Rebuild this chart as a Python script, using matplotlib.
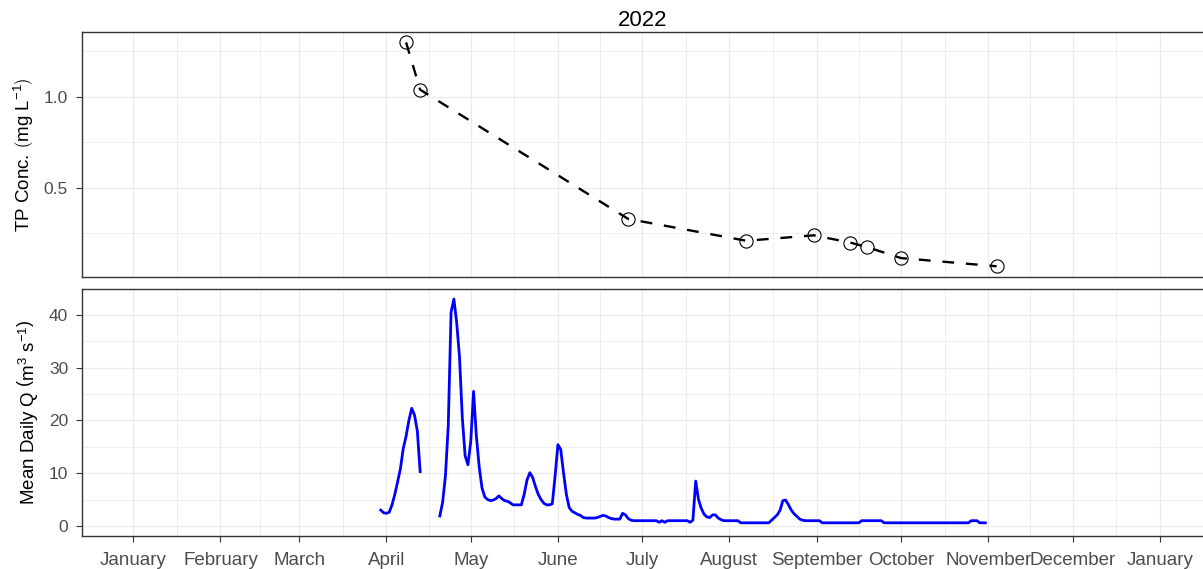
import matplotlib
matplotlib.use("Agg")
import matplotlib.pyplot as plt
import numpy as np
import pandas as pd

plt.rcParams['font.family'] = ['Liberation Sans', 'DejaVu Sans']
plt.rcParams['mathtext.fontset'] = 'custom'
plt.rcParams['mathtext.rm'] = 'Liberation Sans'
plt.rcParams['mathtext.it'] = 'Liberation Sans:italic'

# TP concentration samples
tp_dates = ['2022-04-08', '2022-04-13', '2022-06-26', '2022-08-07', '2022-08-31',
            '2022-09-13', '2022-09-19', '2022-10-01', '2022-11-04']
tp_conc = [1.30, 1.04, 0.33, 0.21, 0.24, 0.20, 0.175, 0.115, 0.07]

# mean daily discharge, two runs of daily values (gap in mid April)
q1_start = '2022-03-30'
q1_vals = [3.0, 2.5, 2.4, 2.6, 4.0, 6.0, 8.4, 10.9, 14.7, 17.0, 20.0, 22.3, 21.0, 18.0, 10.3]

q2_start = '2022-04-20'
q2_vals = ([1.9, 4.5, 9.5, 19.0, 40.5, 43.0, 38.5, 32.0, 20.5, 13.3, 11.6, 16.0, 25.5, 17.0,
            11.2, 7.2, 5.5, 5.0, 4.8, 4.9, 5.2, 5.7, 5.2, 4.8, 4.7, 4.4, 4.0, 4.0, 4.0, 4.0,
            6.0, 8.7, 10.1, 9.2, 7.5, 6.0, 5.0, 4.3, 4.0, 4.0, 4.2, 9.5, 15.4, 14.5, 10.0,
            6.0, 3.5, 2.8, 2.5, 2.2, 2.0, 1.6]
           + [1.5] * 4 + [1.6, 1.8, 2.0, 1.9, 1.6, 1.4, 1.3, 1.3, 1.3, 2.4, 2.1, 1.4, 1.1]
           + [1.0] * 9 + [0.7, 1.0, 0.7] + [1.0] * 8 + [0.7, 1.1, 8.5, 5.0, 3.3, 2.2, 1.7,
           1.6, 2.1, 2.1, 1.5, 1.2] + [1.0] * 6 + [0.6] * 11
           + [1.1, 1.6, 2.1, 3.0, 4.8, 4.9, 4.0, 3.0, 2.3, 1.8, 1.3, 1.1] + [1.0] * 6
           + [0.6] * 14 + [1.0] * 8 + [0.6] * 31 + [1.0] * 3 + [0.6] * 3)

month_labels = ['January', 'February', 'March', 'April', 'May', 'June', 'July',
                'August', 'September', 'October', 'November', 'December', 'January']

tp_x = pd.to_datetime(tp_dates)
q1_x = pd.date_range(q1_start, periods=len(q1_vals), freq='D')
q2_x = pd.date_range(q2_start, periods=len(q2_vals), freq='D')
month_ticks = pd.date_range('2022-01-01', '2023-01-01', freq='MS')
mids = month_ticks[:-1] + (month_ticks[1:] - month_ticks[:-1]) / 2
xlo = pd.Timestamp('2022-01-01') - pd.Timedelta(days=18.25)
xhi = pd.Timestamp('2023-01-01') + pd.Timedelta(days=18.25)

W, H = 1203, 569
fig = plt.figure(figsize=(W / 100, H / 100), dpi=100)
left = 82 / W
width = (1211 - 82) / W
ax1 = fig.add_axes([left, 1 - 277 / H, width, (277 - 32) / H])
ax2 = fig.add_axes([left, 1 - 536 / H, width, (536 - 289) / H])

border = '#333333'
for ax in (ax1, ax2):
    ax.set_xlim(xlo, xhi)
    ax.set_xticks(month_ticks)
    ax.set_xticks(mids, minor=True)
    ax.grid(True, which='major', color='#EBEBEB', lw=1.0)
    ax.grid(True, which='minor', color='#EBEBEB', lw=0.6)
    ax.set_axisbelow(True)
    for s in ax.spines.values():
        s.set_color(border)
        s.set_linewidth(1.0)
    ax.tick_params(which='major', length=4, width=0.8, color=border,
                   labelsize=12.5, labelcolor='#4D4D4D')
    ax.tick_params(axis='y', pad=6)
    ax.tick_params(which='minor', length=0)

# top panel
ax1.plot(tp_x, tp_conc, linestyle=(0, (5, 5)), color='black', lw=1.7, zorder=3)
ax1.plot(tp_x, tp_conc, 'o', ms=9.5, mfc='none', mec='black', mew=0.8, zorder=2)
ax1.set_ylim(0.011, 1.357)
ax1.set_yticks([0.5, 1.0])
ax1.set_yticklabels(['0.5', '1.0'])
ax1.set_yticks([0.25, 0.75, 1.25], minor=True)
ax1.tick_params(axis='x', which='both', length=0, labelbottom=False)
ax1.set_ylabel(r'TP Conc. $\left(\mathrm{mg\ L^{-1}}\right)$', fontsize=13.5, labelpad=6)

# bottom panel
ax2.plot(q1_x, q1_vals, color='#0000FF', lw=2.0)
ax2.plot(q2_x, q2_vals, color='#0000FF', lw=2.0)
ax2.set_ylim(-1.9, 44.9)
ax2.set_yticks([0, 10, 20, 30, 40])
ax2.set_yticks([5, 15, 25, 35], minor=True)
ax2.set_xticklabels(month_labels, fontsize=13.5)
ax2.tick_params(axis='x', pad=7.5)
ax2.set_ylabel(r'Mean Daily Q $\left(\mathrm{m^{3}\ s^{-1}}\right)$', fontsize=13.5, labelpad=6)

fig.text((82 + 1203) / 2 / W, 1 - 20 / H, '2022', ha='center', va='center', fontsize=16)

fig.savefig('out.png', dpi=100)
